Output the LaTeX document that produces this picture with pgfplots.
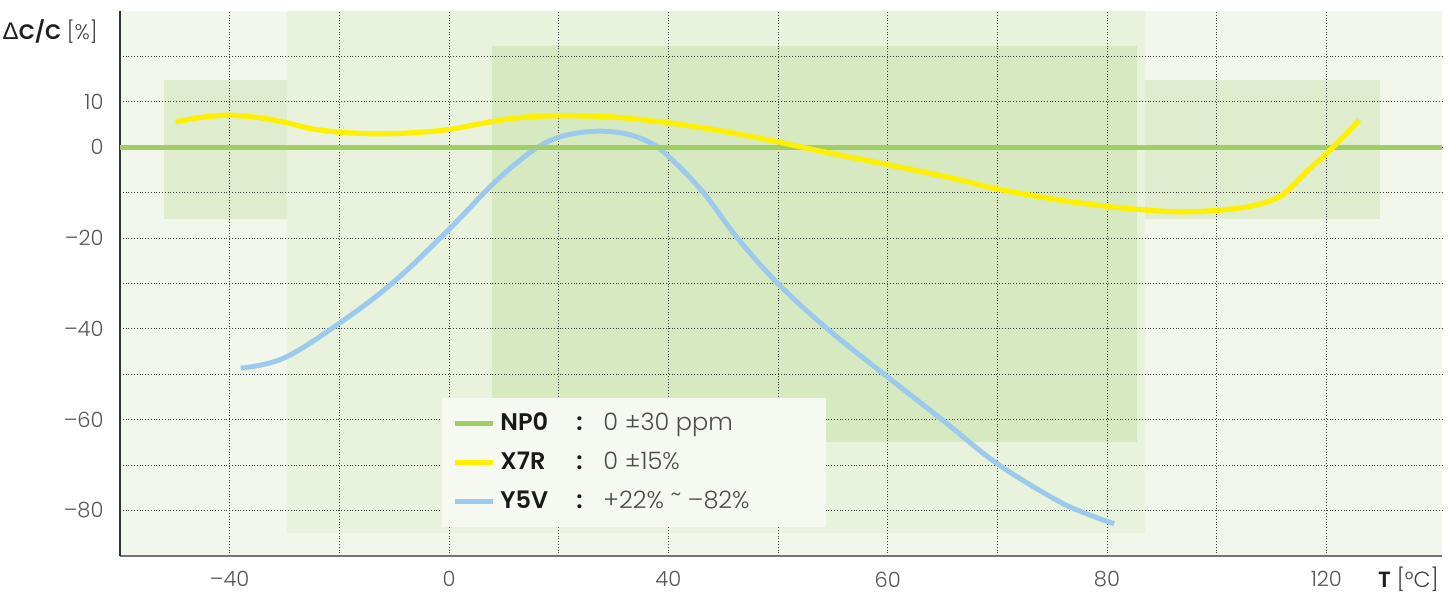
\documentclass[border=0pt]{standalone}
\usepackage{pgfplots}
\pgfplotsset{compat=1.18}
\usepackage{fontspec}
\setmainfont{Poppins}[UprightFont=* Light, BoldFont=* SemiBold]
\newfontfamily\greekfont{Liberation Sans}
\definecolor{bgout}{HTML}{F1F7EA}
\definecolor{bgband}{HTML}{E9F2DC}
\definecolor{bgside}{HTML}{DFECCE}
\definecolor{bginner}{HTML}{D6E9C0}
\definecolor{legfill}{HTML}{F6F9F1}
\definecolor{npo}{HTML}{A0CD64}
\definecolor{xsr}{HTML}{FFF000}
\definecolor{yfv}{HTML}{9DCAEC}
\definecolor{ticktext}{HTML}{555555}
\begin{document}
\begin{tikzpicture}
\begin{axis}[
  set layers,
  scale only axis, width=661pt, height=272.5pt,
  xmin=-60, xmax=181.1, ymin=-90, ymax=30,
  axis x line=bottom, axis y line=left, axis line style={-},
  x axis line style={draw=black!55, line width=1pt},
  y axis line style={draw=black!80, line width=0.7pt},
  xtick={-40,-20,...,160},
  xticklabels={–40,,0,,40,,60,,80,,120},
  ytick={-80,-70,...,20},
  yticklabels={–80,,–60,,–40,,–20,,0,10,},
  major tick length=0pt,
  grid=major,
  major grid style={densely dotted, black!75, line width=0.5pt},
  tick label style={font=\fontsize{10.5}{12}\selectfont, text=ticktext},
  xticklabel style={yshift=-4.3pt},
  yticklabel style={xshift=-4.7pt},
  every axis y label/.style={at={(rel axis cs:-0.0166,0.9615)}, anchor=east, inner sep=0pt},
  every axis x label/.style={at={(rel axis cs:0.9514,-0.0431)}, anchor=west, inner sep=0pt},
  ylabel={\fontsize{10.5}{13}\selectfont\textcolor{black!88}{{\greekfont\fontsize{12}{13}\selectfont Δ}\textbf{C/C}} \textcolor{black!75}{[\%]}},
  xlabel={\fontsize{11}{13}\selectfont\textcolor{black!88}{\textbf{T}} \textcolor{black!75}{[°C]}},
  legend style={at={(0.2436,0.2899)}, anchor=north west, draw=none, fill=legfill,
    inner xsep=5pt, inner ysep=5.9pt, row sep=6pt,
    font=\fontsize{12}{15}\selectfont,
    nodes={text height=9pt, text depth=2.5pt, inner ysep=1pt, inner xsep=2.5pt}},
  legend cell align=left,
  legend image code/.code={\draw[#1] (0pt,0pt) -- (19pt,0pt);},
]
\begin{pgfonlayer}{axis background}
\fill[bgout] (rel axis cs:0,0) rectangle (rel axis cs:1,1);
\fill[bgband] (axis cs:-29.6,-85) rectangle (axis cs:127,30);
\fill[bgside] (axis cs:-51.9,-15.8) rectangle (axis cs:-29.6,14.7);
\fill[bgside] (axis cs:127,-15.8) rectangle (axis cs:169.8,14.7);
\fill[bginner] (axis cs:7.8,-64.9) rectangle (axis cs:125.4,22.4);
\end{pgfonlayer}

\addlegendimage{npo, line width=2.5pt}
\addlegendentry{\makebox[38pt][l]{\textcolor{black!90}{\bfseries NP0}}\makebox[13.5pt][l]{\textcolor{black!90}{\bfseries :}}\makebox[104pt][l]{\textcolor{black!70}{0 ±30 ppm}}}
\addlegendimage{xsr, line width=2.5pt}
\addlegendentry{\makebox[38pt][l]{\textcolor{black!90}{\bfseries X7R}}\makebox[13.5pt][l]{\textcolor{black!90}{\bfseries :}}\makebox[104pt][l]{\textcolor{black!70}{0 ±15\%}}}
\addlegendimage{yfv, line width=2.5pt}
\addlegendentry{\makebox[38pt][l]{\textcolor{black!90}{\bfseries Y5V}}\makebox[13.5pt][l]{\textcolor{black!90}{\bfseries :}}\makebox[104pt][l]{\textcolor{black!70}{+22\% \raisebox{3.5pt}{\fontsize{11}{12}\selectfont\char"7E} –82\%}}}

% Y5V
\addplot[yfv, line width=2.5pt, smooth, tension=0.6, forget plot] coordinates {
(-38.0,-48.64) (-30.15,-46.44) (-19.95,-38.72) (-10.1,-29.68) (-0.07,-18.15)
(7.58,-8.60) (12.5,-3.3) (17.0,0.6) (21.5,2.7) (27.1,3.53) (32.5,2.9) (37.0,0.8) (40.0,-1.98)
(46.2,-9.70) (52.6,-19.98) (59.9,-29.90) (69.2,-40.2) (79.9,-50.5)
(90.0,-60.06) (99.9,-69.6) (110.8,-77.7) (116.5,-80.8) (121.3,-82.9)};
% NP0
\addplot[npo, line width=2.5pt, forget plot] coordinates {(-60,0) (181.1,0)};
% X7R
\addplot[xsr, line width=2.6pt, smooth, forget plot] coordinates {
(-49.85,5.60) (-45,6.6) (-40.2,7.06) (-34.35,6.48) (-29.6,5.38) (-25.2,4.1) (-19.95,3.31)
(-13.0,2.95) (-6.45,3.20) (-0.07,3.90) (7.58,5.60) (13.6,6.62) (20.0,6.92)
(29.5,6.70) (40.0,5.38) (50.0,3.53) (59.9,1.19) (69.2,-1.23) (79.9,-3.81)
(91.6,-6.75) (99.9,-9.17) (110.8,-11.53) (119.9,-13.0) (127.9,-13.9)
(133.9,-14.24) (140.1,-13.9) (146.1,-13.0) (151.6,-10.8) (156.5,-5.29)
(161.3,0.09) (166.0,5.95)};

\coordinate (bbsw) at (rel axis cs:-0.09077,-0.06239);
\coordinate (bbne) at (rel axis cs:1.004539,1.020183);
\end{axis}
\path (bbsw) rectangle (bbne);
\end{tikzpicture}
\end{document}
